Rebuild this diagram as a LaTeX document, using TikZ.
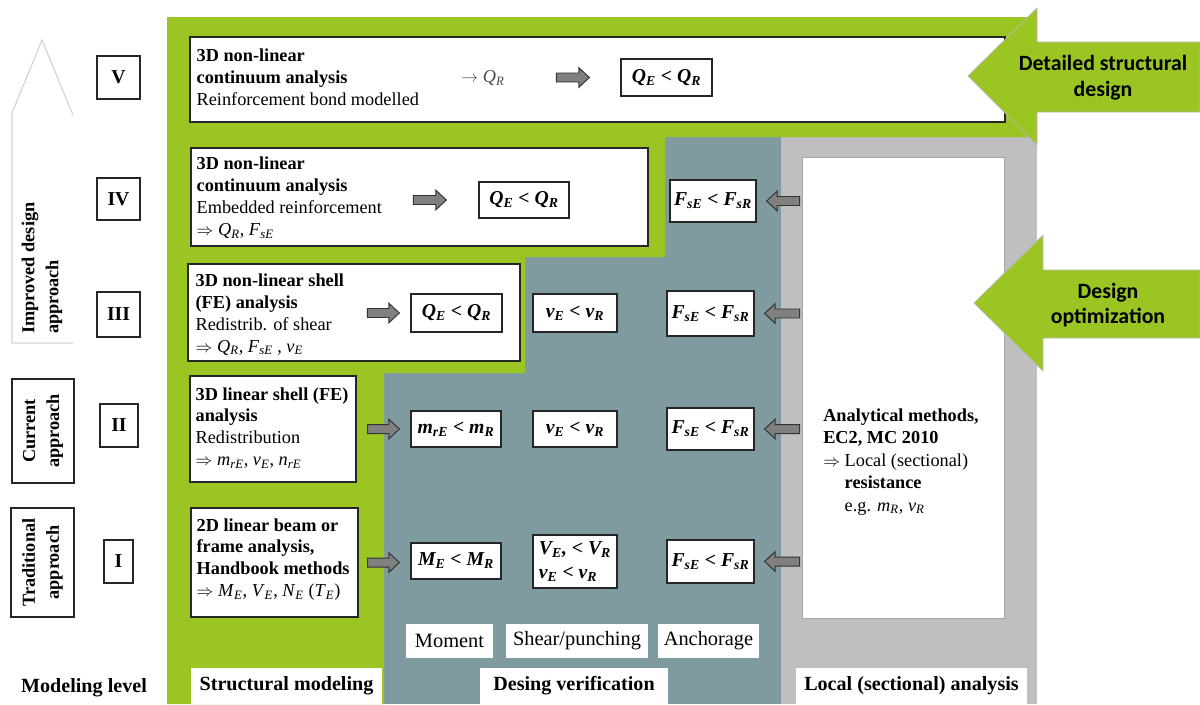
\documentclass[tikz,border=0pt]{standalone}
\usepackage{fontspec}
\setmainfont{Liberation Serif}
\newfontfamily\calibri{Carlito}
\usetikzlibrary{calc,positioning,fit}
\definecolor{leafgreen}{HTML}{9BC523}
\definecolor{slate}{HTML}{7F9BA0}
\definecolor{sectgrey}{HTML}{BFBFBF}
\newcommand{\iq}[2]{\textit{#1}\textsubscript{\textit{#2}}}
\newcommand{\bq}[2]{\textbf{\textit{#1}\textsubscript{\textbf{\textit{#2}}}}}
% grey block arrow between two points on one row
\newcommand{\fatarrow}[2]{%
  \draw[fatarr] let \p1=#1, \p2=#2, \n1={ifthenelse(\x2>\x1,7.5,-7.5)} in
    (\x1,{\y1+3.2pt}) -- ({\x2-\n1},{\y1+3.2pt}) -- ({\x2-\n1},{\y1+7pt}) -- (\x2,\y1)
    -- ({\x2-\n1},{\y1-7pt}) -- ({\x2-\n1},{\y1-3.2pt}) -- (\x1,{\y1-3.2pt}) -- cycle;}
\tikzset{
    wh/.style 2 args={minimum width=#1*0.025cm, minimum height=#2*0.025cm},
    sbox/.style={draw=black!85, line width=0.9pt, fill=white, inner sep=0pt},
    stext/.style={anchor=west, align=left, inner sep=0pt, font=\fontsize{13}{15.6}\selectfont},
    eqbox/.style={draw=black!85, line width=0.9pt, fill=white, inner sep=0pt, align=left,
        font=\fontsize{14}{17}\selectfont\bfseries\itshape},
    lvlbox/.style={draw=black!85, line width=0.8pt, fill=white, inner sep=0pt,
        font=\fontsize{14}{16}\selectfont\bfseries},
    lvltext/.style={align=center, inner sep=0pt, font=\fontsize{13}{17}\selectfont\bfseries},
    tagbox/.style={fill=white, inner sep=0pt, font=\fontsize{14.5}{16}\selectfont},
    headbox/.style={fill=white, inner sep=0pt, font=\fontsize{14.3}{16}\selectfont\bfseries},
    fatarr/.style={fill=gray, draw=black!80, line width=0.7pt},
    bigarrow/.style={fill=leafgreen, draw=gray!55, line width=0.5pt},
    bigtext/.style={align=center, inner sep=0pt, font=\calibri\fontsize{15.5}{18.4}\selectfont\bfseries}
}
\begin{document}
\begin{tikzpicture}[x=0.025cm, y=-0.025cm]
\useasboundingbox (0,0) rectangle (1200,704);
% background areas
\fill[slate] (384,137) rectangle (781,704);
\fill[sectgrey] (781,137) rectangle (1037,704);
\fill[leafgreen] (167,17) -- (1030,17) -- (1030,137) -- (665,137) -- (665,257) -- (525,257)
    -- (525,373) -- (384,373) -- (384,704) -- (167,704) -- cycle;

% modeling levels
\draw[gray!35, line width=0.8pt] (73,115) -- (42,40) -- (12,113) -- (12,343) -- (73,343);
\node[lvltext, rotate=90, anchor=west, align=left] (imptext) at (42,334) {Improved design\\approach};
\node[lvlbox, fit={(12,379) (74,483)}] (cur) {};
\node[lvltext, rotate=90] (curtext) at (cur.center) {Current\\approach};
\node[lvlbox, fit={(11,508) (74,617)}] (trad) {};
\node[lvltext, rotate=90] (tradtext) at (trad.center) {Traditional\\approach};
\node[lvlbox, wh={43}{43}] (lv5) at (118.5,77.5) {V};
\node[lvlbox, wh={43}{42}] (lv4) at (118.5,199) {IV};
\node[lvlbox, wh={43}{45}] (lv3) at (118.5,314.5) {III};
\node[lvlbox, wh={38}{43}] (lv2) at (119,425.5) {II};
\node[lvlbox, wh={29}{43}] (lv1) at (118.5,561.5) {I};

% local analysis box
\node[fill=white, draw=gray!70, line width=0.5pt, inner sep=0pt, fit={(802,157) (1004,618)}] (local) {};
\node[anchor=west, align=left, inner sep=0pt, font=\fontsize{13}{16}\selectfont] (loctext) at (823,462)
    {\textbf{Analytical methods,}\\\textbf{EC2, MC 2010}\\$\Rightarrow$ Local (sectional)\\
     \phantom{$\Rightarrow$ }\textbf{resistance}\\\phantom{$\Rightarrow$ }e.g. \iq{m}{R}, \iq{v}{R}};

% level V
\node[sbox, fit={(190,37) (1005,122)}] (s5) {};
\node[stext] (t5) at ($(s5.west)+(7,-2)$) {\textbf{3D non-linear}\\\textbf{continuum analysis}\\Reinforcement bond modelled};
\node[font=\fontsize{13}{15}\selectfont, text=black!70] (rq5) at (483,78) {$\rightarrow$ \iq{Q}{R}};
\node[eqbox, wh={91}{37}] (q5) at (666.5,77.5) {\bq{Q}{E} < \bq{Q}{R}};
\fatarrow{($(q5.west)+(-64,0)$)}{($(q5.west)+(-31,0)$)}

% level IV
\node[sbox, fit={(191,148) (648,246)}] (s4) {};
\node[stext] (t4) at ($(s4.west)+(6,1)$) {\textbf{3D non-linear}\\\textbf{continuum analysis}\\Embedded reinforcement\\$\Rightarrow$ \iq{Q}{R}, \iq{F}{sE}};
\node[eqbox, wh={90}{36}] (q4) at (524,200) {\bq{Q}{E} < \bq{Q}{R}};
\node[eqbox, wh={86}{42}] (f4) at (713,201) {\bq{F}{sE} < \bq{F}{sR}};
\fatarrow{($(q4.west)+(-65,0)$)}{($(q4.west)+(-32,0)$)}
\fatarrow{($(local.west |- f4.east)+(-2,0)$)}{($(f4.east)+(10,0)$)}

% level III
\node[sbox, fit={(188,264) (520,361)}] (s3) {};
\node[stext] (t3) at ($(s3.west)+(8,2)$) {\textbf{3D non-linear shell}\\\textbf{(FE) analysis}\\Redistrib. of shear\\$\Rightarrow$ \iq{Q}{R}, \iq{F}{sE} , \iq{v}{E}};
\node[eqbox, wh={91}{38}] (q3) at (456.5,313) {\bq{Q}{E} < \bq{Q}{R}};
\node[eqbox, wh={84}{38}] (v3) at (575,313) {\bq{v}{E} < \bq{v}{R}};
\node[eqbox, wh={87}{45}] (f3) at (710.5,313.5) {\bq{F}{sE} < \bq{F}{sR}};
\fatarrow{($(q3.west)+(-43,0)$)}{($(q3.west)+(-11,0)$)}
\fatarrow{($(local.west |- f3.east)+(-2,0)$)}{($(f3.east)+(10,0)$)}

% level II
\node[sbox, fit={(190,376) (356,482)}] (s2) {};
\node[stext] (t2) at ($(s2.west)+(6,-1)$) {\textbf{3D linear shell (FE)}\\\textbf{analysis}\\Redistribution\\$\Rightarrow$ \iq{m}{rE}, \iq{v}{E}, \iq{n}{rE}};
\node[eqbox, wh={90}{36}] (m2) at (456,429) {\bq{m}{rE} < \bq{m}{R}};
\node[eqbox, wh={84}{36}] (v2) at (575,429) {\bq{v}{E} < \bq{v}{R}};
\node[eqbox, wh={87}{42}] (f2) at (710.5,429) {\bq{F}{sE} < \bq{F}{sR}};
\fatarrow{($(s2.east)+(11,0)$)}{($(m2.west)+(-11,0)$)}
\fatarrow{($(local.west |- f2.east)+(-2,0)$)}{($(f2.east)+(10,0)$)}

% level I
\node[sbox, fit={(191,508) (358,617)}] (s1) {};
\node[stext] (t1) at ($(s1.west)+(6,-3)$) {\textbf{2D linear beam or}\\\textbf{frame analysis,}\\\textbf{Handbook methods}\\$\Rightarrow$ \iq{M}{E}, \iq{V}{E}, \iq{N}{E} (\iq{T}{E})};
\node[eqbox, wh={90}{36}] (m1) at (456,561) {\bq{M}{E} < \bq{M}{R}};
\node[eqbox, wh={84}{53}] (v1) at (575,561.5) {\bq{V}{E}, < \bq{V}{R}\\\bq{v}{E} < \bq{v}{R}};
\node[eqbox, wh={87}{43}] (f1) at (710.5,561.5) {\bq{F}{sE} < \bq{F}{sR}};
\fatarrow{($(s1.east)+(9,0)$)}{($(m1.west)+(-11,0)$)}
\fatarrow{($(local.west |- f1.east)+(-2,0)$)}{($(f1.east)+(10,0)$)}

% column labels
\node[tagbox, wh={87}{34}] (tmom) at (449.5,641) {Moment};
\node[tagbox, wh={142}{34}] (tshear) at (577,641) {Shear/punching};
\node[tagbox, wh={101}{34}] (tanch) at (708.5,641) {Anchorage};
\node[font=\fontsize{14.3}{16}\selectfont\bfseries] (hlevel) at (84,688) {Modeling level};
\node[headbox, wh={191}{36}] (hstruct) at (286.5,686) {Structural modeling};
\node[headbox, wh={188}{36}] (hverif) at (574,686) {Desing verification};
\node[headbox, wh={231}{36}] (hlocal) at (911.5,686) {Local (sectional) analysis};

% design arrows
\draw[bigarrow] (968,76) -- (1037,8) -- (1037,42) -- (1200,42) -- (1200,112) -- (1037,112) -- (1037,145) -- cycle;
\node[bigtext] (detail) at (1103,78) {Detailed structural\\design};
\draw[bigarrow] (974,303) -- (1043,235) -- (1043,270) -- (1200,270) -- (1200,338) -- (1043,338) -- (1043,371) -- cycle;
\node[bigtext] (optim) at (1108,305) {Design\\optimization};
\end{tikzpicture}
\end{document}
